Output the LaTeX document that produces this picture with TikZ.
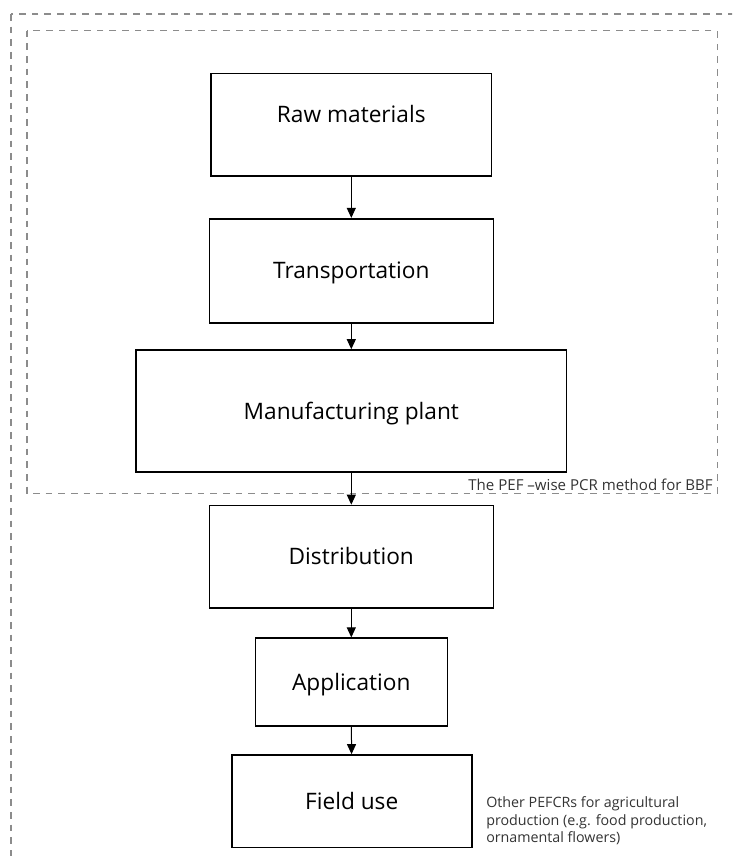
\documentclass[tikz,border=0pt]{standalone}
\usepackage{fontspec}
\setmainfont{Open Sans}
\usetikzlibrary{arrows.meta}
\begin{document}
\begin{tikzpicture}[x=0.75pt,y=-0.75pt,
  stagebox/.style={draw=black,line width=1.2pt,fill=white,inner sep=0pt,
    font=\fontsize{17}{20}\selectfont,text height=12.14pt,text depth=0pt},
  frame/.style={draw=black!45,line width=1pt,dash pattern=on 5pt off 4.5pt},
  flow/.style={line width=0.75pt,-{Triangle[width=6.75pt,length=7.5pt]}},
  note/.style={text=black!80,inner sep=0pt}]
\useasboundingbox (0,0) rectangle (732,856);
\clip (0,0) rectangle (732,856);
% frames
\draw[frame] (11,14) rectangle (760,900);
\draw[frame] (27,30.7) rectangle (717.3,493.3);
% stages
\node[stagebox,minimum width=210.5pt,minimum height=76.5pt,text depth=15pt] (raw) at (351.3,124.7) {Raw materials};
\node[stagebox,minimum width=213pt,minimum height=78pt] (trans) at (351.3,270.7) {Transportation};
\node[stagebox,minimum width=323pt,minimum height=91.5pt] (manuf) at (351.3,411) {Manufacturing plant};
\node[stagebox,minimum width=213pt,minimum height=77pt] (dist) at (351.3,556.8) {Distribution};
\node[stagebox,minimum width=144pt,minimum height=66pt] (app) at (351.3,682.2) {Application};
\node[stagebox,minimum width=180pt,minimum height=69.5pt] (field) at (351.7,801.3) {Field use};
% connectors
\draw[flow] (raw) -- (trans);
\draw[flow] (trans) -- (manuf);
\draw[flow] (manuf) -- (dist);
\draw[flow] (dist) -- (app);
\draw[flow] (app) -- (field);
% labels
\node[note,font=\fontsize{11.3}{13.4}\selectfont,anchor=base east] (pef) at (713,490) {The PEF –wise PCR method for BBF};
\node[note,font=\fontsize{10.7}{13.4}\selectfont,anchor=north west,align=left] (other) at (486,796) {Other PEFCRs for agricultural\\production (e.g. food production,\\ornamental flowers)};
\end{tikzpicture}
\end{document}
